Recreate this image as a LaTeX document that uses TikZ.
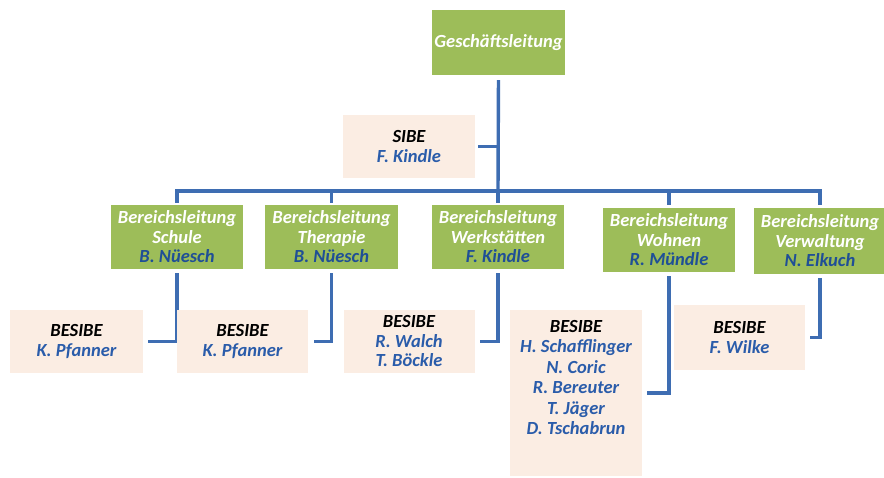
\documentclass[tikz,border=0pt]{standalone}
\usepackage{fontspec}
\setmainfont{Carlito}
\usetikzlibrary{backgrounds}
\definecolor{boxgreen}{HTML}{9DBD59}
\definecolor{boxpink}{HTML}{FBEDE3}
\definecolor{linkblue}{HTML}{3E6DB2}
\definecolor{nameblue}{HTML}{2A5CAA}
\definecolor{namedark}{HTML}{1F4F96}
\begin{document}
\begin{tikzpicture}[x=1pt,y=-1pt,
  every node/.style={font=\fontsize{18.5}{19.5}\selectfont\bfseries\itshape, inner sep=0pt, align=center},
  greenbox/.style={fill=boxgreen, text=white, draw=none},
  pinkbox/.style={fill=boxpink, draw=none},
  link/.style={draw=linkblue, line width=3.4pt}]
\useasboundingbox (0,0) rectangle (884,478);

% top
\node[greenbox, minimum width=133, minimum height=65] (gl) at (498.5,42.5) {Geschäftsleitung};
\node[pinkbox, minimum width=132, minimum height=63] (sibe) at (409,146.5) {SIBE\\\textcolor{nameblue}{F. Kindle}};

% level 2
\node[greenbox, minimum width=132, minimum height=64] (schule) at (177,237) {Bereichsleitung\\Schule\\\textcolor{namedark}{B. Nüesch}};
\node[greenbox, minimum width=133, minimum height=64] (therapie) at (331.5,237) {Bereichsleitung\\Therapie\\\textcolor{namedark}{B. Nüesch}};
\node[greenbox, minimum width=132, minimum height=64] (werk) at (498,237) {Bereichsleitung\\Werkstätten\\\textcolor{namedark}{F. Kindle}};
\node[greenbox, minimum width=132, minimum height=64] (wohnen) at (669,240) {Bereichsleitung\\Wohnen\\\textcolor{namedark}{R. Mündle}};
\node[greenbox, minimum width=132, minimum height=66] (verw) at (820,241) {Bereichsleitung\\Verwaltung\\\textcolor{namedark}{N. Elkuch}};

% level 3
\node[pinkbox, minimum width=133, minimum height=63] (b1) at (76.5,341.5) {BESIBE\\\textcolor{nameblue}{K. Pfanner}};
\node[pinkbox, minimum width=131, minimum height=63] (b2) at (242.5,341.5) {BESIBE\\\textcolor{nameblue}{K. Pfanner}};
\node[pinkbox, minimum width=131, minimum height=63] (b3) at (409,341.5) {BESIBE\\\textcolor{nameblue}{R. Walch}\\\textcolor{nameblue}{T. Böckle}};
\node[pinkbox, minimum width=132, minimum height=166] (b4) at (576,393) {};
\node[anchor=north, font=\fontsize{18.5}{20.5}\selectfont\bfseries\itshape] (b4t) at (576,320) {BESIBE\\\textcolor{nameblue}{H. Schafflinger}\\\textcolor{nameblue}{N. Coric}\\\textcolor{nameblue}{R. Bereuter}\\\textcolor{nameblue}{T. Jäger}\\\textcolor{nameblue}{D. Tschabrun}};
\node[pinkbox, minimum width=131, minimum height=65] (b5) at (739.5,337.5) {BESIBE\\\textcolor{nameblue}{F. Wilke}};

% connectors, behind the boxes
\begin{scope}[on background layer]
\coordinate (bus) at (498,191);
\draw[link, shorten <=5pt] (gl.south) -- (bus);
\draw[link, shorten <=3pt] (sibe.east) -- (sibe.east -| gl.south);
\draw[link, shorten >=2pt] (bus) -| (schule.north);
\draw[link, shorten >=2pt] (bus) -| (therapie.north);
\draw[link, shorten >=2pt] (bus) -- (werk.north);
\draw[link, shorten >=3pt] (bus) -| (wohnen.north);
\draw[link, shorten >=3pt] (bus) -| (verw.north);
\draw[link, shorten <=4pt, shorten >=5pt] (schule.south) |- (b1.east);
\draw[link, shorten <=4pt, shorten >=6pt] (therapie.south) |- (b2.east);
\draw[link, shorten <=4pt, shorten >=5pt] (werk.south) |- (b3.east);
\draw[link, shorten <=4pt, shorten >=5pt] (wohnen.south) |- (b4.east);
\draw[link, shorten <=4pt, shorten >=5pt] (verw.south) |- (b5.east);
\end{scope}
\end{tikzpicture}
\end{document}
